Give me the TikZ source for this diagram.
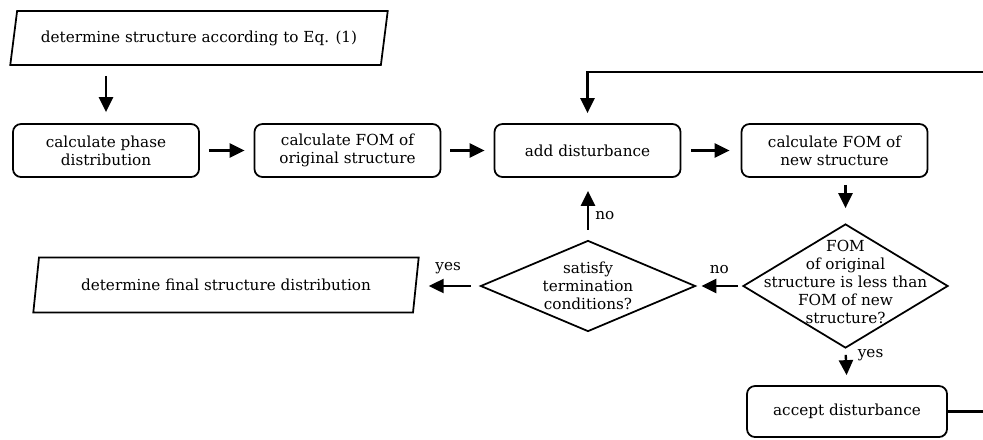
\documentclass[tikz,border=0pt]{standalone}
\usepackage{fontspec}
\setmainfont{DejaVu Serif}
\usetikzlibrary{shapes.geometric,arrows.meta,calc}

\tikzset{
  proc/.style={draw, rounded corners=0.24cm, minimum width=5.58cm, minimum height=1.59cm, align=center, line width=1.5pt},
  io/.style={draw, trapezium, trapezium left angle=75, trapezium right angle=105, trapezium stretches=true, minimum height=1.62cm, line width=1.5pt},
  decision/.style={draw, diamond, inner sep=0pt, line width=1.5pt},
  arr/.style={-{Triangle[length=0.45cm,width=0.42cm]}, line width=2pt, shorten <=0.27cm, shorten >=0.27cm},
}

\begin{document}
\begin{tikzpicture}[x=0.03cm, y=-0.03cm, font=\fontsize{13}{15.4}\selectfont]
    \useasboundingbox (0,0) rectangle (983,439);
    \clip (0,0) rectangle (983,439);

    % Start
    \node[io, minimum width=11.34cm] (start) at (199,38) {determine structure according to Eq. (1)};

    % First row
    \node[proc] (phase) at (106,150.5) {calculate phase\\distribution};
    \node[proc] (fomorig) at (347.5,150.5) {calculate FOM of\\original structure};
    \node[proc] (disturb) at (587.5,150.5) {add disturbance};
    \node[proc] (fomnew) at (834.5,150.5) {calculate FOM of\\new structure};

    % Decisions
    \node[decision, minimum width=6.15cm, minimum height=3.72cm] (compare) at (845.5,286) {};
    \node[align=center] (comparetext) at ($(compare)+(0,-4)$) {FOM\\of original\\structure is less than\\FOM of new\\structure?};
    \node[decision, minimum width=6.45cm, minimum height=2.73cm] (check) at (588,286) {};
    \node[align=center] (checktext) at (check) {satisfy\\termination\\conditions?};

    % End and accept
    \node[io, trapezium left angle=77, trapezium right angle=103, minimum width=11.58cm, minimum height=1.65cm] (final) at (226,285) {determine final structure distribution};
    \node[proc, minimum width=6cm, minimum height=1.53cm] (accept) at (847,411.5) {accept disturbance};

    % Main flow
    \draw[arr, shorten <=0.3cm, shorten >=0.33cm] (phase.north |- start.south) -- (phase.north);
    \draw[arr] (phase) -- (fomorig);
    \draw[arr] (fomorig) -- (disturb);
    \draw[arr, shorten <=0.3cm, shorten >=0.33cm] (disturb) -- (fomnew);
    \draw[arr, shorten <=0.21cm, shorten >=0.45cm] (compare.north |- fomnew.south) -- (compare.north);
    \draw[arr, shorten <=0.12cm, shorten >=0.15cm] (compare.west) -- node[above=6pt] {no} (check.east);
    \draw[arr, shorten >=0.36cm] (check.west) -- node[above=6pt] {yes} (check.west -| final.east);
    \draw[arr, shorten <=0.3cm, shorten >=0.39cm] (check.north) -- node[pos=0.39, right=2pt] {no} (check.north |- disturb.south);
    \draw[arr, shorten <=0.18cm, shorten >=0.3cm] (compare.south) -- node[pos=0.18, right=6pt] {yes} (accept.north);

    % Loop back
    \coordinate (loop) at (1000,72);
    \draw[arr, shorten <=0pt, shorten >=0.3cm] (accept.east) -| (loop) -| (disturb.north);

\end{tikzpicture}
\end{document}
